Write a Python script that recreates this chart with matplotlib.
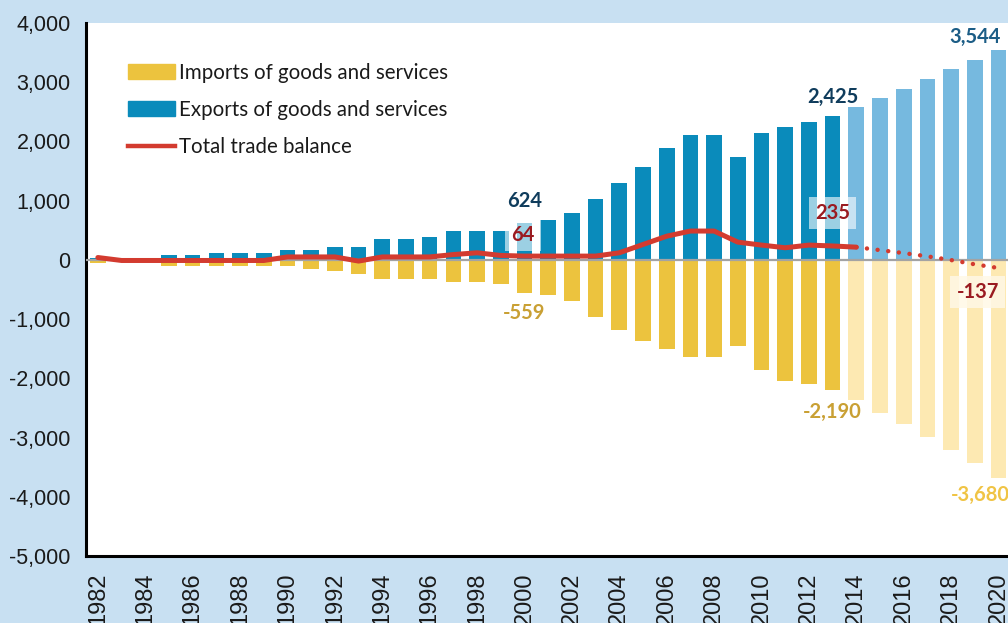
import numpy as np
import matplotlib
matplotlib.use('Agg')
import matplotlib.pyplot as plt
from matplotlib.patches import Patch
from matplotlib.lines import Line2D

years = list(range(1982, 2021))
exports = [30, 20, 20, 75, 75, 120, 120, 120, 165, 165, 210, 210, 345, 345, 390, 480, 480, 490,
           624, 668, 798, 1024, 1294, 1565, 1881, 2106, 2106, 1745, 2151, 2242, 2332, 2425,
           2580, 2733, 2885, 3054, 3223, 3376, 3544]
imports = [-60, -20, -15, -105, -105, -105, -105, -105, -105, -150, -195, -240, -330, -330, -330, -375, -375, -415,
           -559, -601, -697, -961, -1188, -1362, -1503, -1638, -1638, -1458, -1865, -2045, -2090, -2190,
           -2372, -2580, -2778, -2987, -3206, -3438, -3680]
balance = [40, -10, -10, -10, -10, -10, -10, -10, 50, 50, 50, -20, 50, 50, 50, 90, 120, 75,
           64, 64, 64, 64, 120, 260, 400, 487, 487, 300, 250, 205, 250, 235,
           215, 165, 115, 60, -3, -75, -137]
first_proj = 2014

BG = '#c8e0f2'
EXP, EXP_P = '#0a8bbb', '#76b9df'
IMP, IMP_P = '#ecc33e', '#fde9b2'
RED = '#d33b2f'

years = np.array(years)
proj = years >= first_proj
exp_col = [EXP_P if p else EXP for p in proj]
imp_col = [IMP_P if p else IMP for p in proj]

fig = plt.figure(figsize=(10.08, 6.23), dpi=100, facecolor=BG)
ax = fig.add_axes([86 / 1008, 1 - 556 / 623, 922 / 1008, 533 / 623])
ax.set_facecolor('white')

ax.bar(years, exports, width=0.66, color=exp_col, zorder=2)
ax.bar(years, imports, width=0.66, color=imp_col, zorder=2)
ax.axhline(0, color='#a3a3a3', lw=1.6, zorder=3)

solid = years <= first_proj
dots = years >= first_proj
bal = np.array(balance)
ax.plot(years[solid], bal[solid], color=RED, lw=3.6, zorder=4, solid_capstyle='round')
ax.plot(years[dots], bal[dots], color=RED, lw=3.2, zorder=4,
        linestyle=(0, (0.01, 2.4)), dash_capstyle='round')

ax.set_xlim(1981.5, 2020.4)
ax.set_ylim(-5000, 4000)
ax.set_yticks(range(-5000, 4001, 1000))
ax.set_yticklabels([f'{v:,}' for v in range(-5000, 4001, 1000)])
ax.set_xticks(range(1982, 2021, 2))
ax.tick_params(axis='y', length=0, pad=11, labelsize=15.5, labelcolor='#1a1a1a')
ax.tick_params(axis='x', length=0, pad=12, labelsize=17, labelrotation=90, labelcolor='#1a1a1a')
for lab in ax.get_xticklabels() + ax.get_yticklabels():
    lab.set_fontfamily('Liberation Sans')

for s in ['top', 'right']:
    ax.spines[s].set_visible(False)
for s in ['left', 'bottom']:
    ax.spines[s].set_linewidth(2.2)
    ax.spines[s].set_color('black')

lab_font = dict(fontfamily='Lato', fontweight='bold', fontsize=14.5, ha='center')

def note(yr, val, dx, dy, color, box=None):
    i = yr - 1982
    ax.annotate(f'{val[i]:,}', xy=(yr, val[i]), xytext=(dx, dy), textcoords='offset points',
                va='center', color=color, zorder=6, bbox=box, **lab_font)

note(2000, exports, 0, 16, '#0f3c5c')
note(2013, exports, 0, 14, '#0f3c5c')
note(2020, exports, -17, 9.5, '#1c5d86')
note(2000, imports, 0, -14.5, '#c9a034')
note(2013, imports, 0, -16, '#c9a034')
note(2020, imports, -13, -12.5, '#f0c445')
wbox = dict(boxstyle='square,pad=0.3', fc='white', ec='none', alpha=0.6)
note(2000, balance, -1, 15, '#9a1b21', wbox)
note(2013, balance, 0, 24, '#9a1b21', wbox)
ybox = dict(boxstyle='square,pad=0.3', fc='#fff8e6', ec='none', alpha=0.85)
note(2020, balance, -15, -17.5, '#9a1b21', ybox)

handles = [Patch(color=IMP), Patch(color=EXP), Line2D([], [], color=RED, lw=3.2)]
labels = ['Imports of goods and services', 'Exports of goods and services', 'Total trade balance']
leg = ax.legend(handles, labels, loc='upper left', bbox_to_anchor=(0.026, 0.96), frameon=False,
                prop={'family': 'Lato', 'size': 14.8}, handlelength=2.25, handleheight=0.7,
                handletextpad=0.22, labelspacing=0.83)
for t in leg.get_texts():
    t.set_color('#1a1a1a')

fig.savefig('out.png', dpi=100, facecolor=BG)
